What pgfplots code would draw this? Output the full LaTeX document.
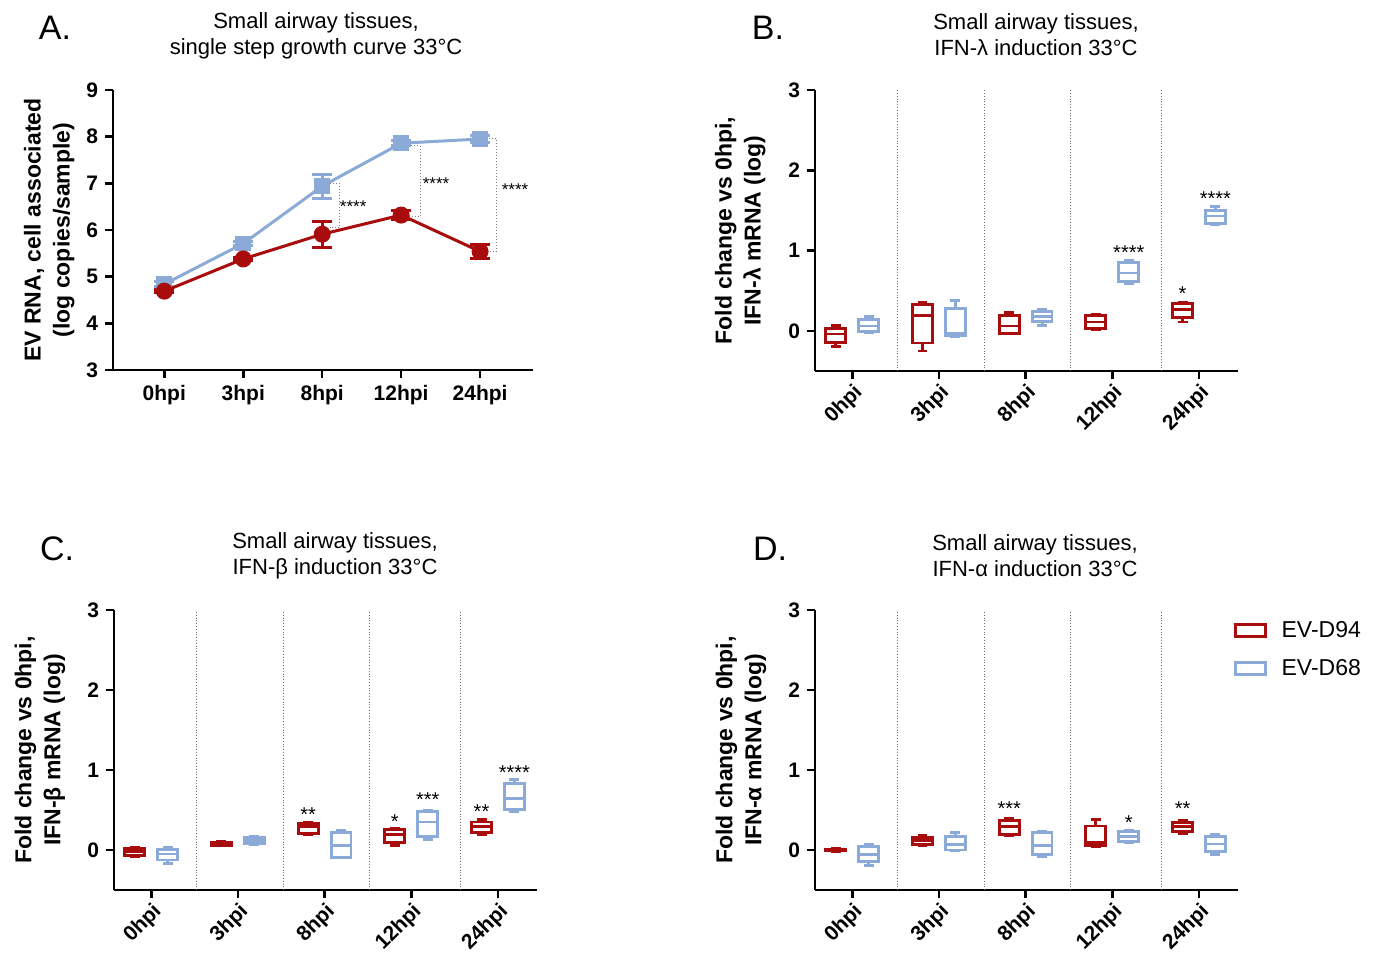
\documentclass[border=0pt]{standalone}
\usepackage{pgfplots}
\pgfplotsset{compat=1.18}
\usepgfplotslibrary{statistics}
\usepackage{fontspec}
\setmainfont{Liberation Sans}
\definecolor{cred}{RGB}{168,12,12}
\definecolor{cblue}{RGB}{140,170,215}
\definecolor{sepgray}{RGB}{110,110,110}

\pgfplotsset{
  base/.style={
    scale only axis, clip=false,
    axis x line*=bottom, axis y line*=left,
    axis line style={line width=1.25pt,-},
    every tick/.style={black, line width=1.25pt},
    major tick length=4pt, tick align=outside,
    /pgf/number format/assume math mode=true,
    tick label style={font=\fontsize{10.5}{12}\selectfont\bfseries},
    ylabel style={font=\fontsize{11.5}{14.5}\selectfont\bfseries, align=center, anchor=center},
  },
  boxax/.style={
    base, xmin=-0.43, xmax=4.45, ymin=-0.5, ymax=3,
    ytick={0,1,2,3}, xtick={0,1,2,3,4},
    xticklabels={0hpi,3hpi,8hpi,12hpi,24hpi},
    xticklabel style={rotate=45, anchor=north east, inner sep=1pt},
    extra x ticks={0.52,1.52,2.52,3.57},
    extra x tick labels={},
    extra x tick style={grid=major, major tick length=0pt,
      major grid style={sepgray, densely dotted, line width=0.5pt}},
    boxplot/draw direction=y,
  },
}
\tikzset{sigstar/.style={font=\fontsize{10}{10}\selectfont, yshift=-2pt}}
% box: color, position, lower whisker, lower quartile, median, upper quartile, upper whisker
\newcommand{\bx}[7]{\addplot[#1, line width=1.4pt, forget plot,
  boxplot prepared={draw position=#2, lower whisker=#3, lower quartile=#4,
  median=#5, upper quartile=#6, upper whisker=#7, box extend=0.23, whisker extend=0.115}]
  coordinates {};}

\begin{document}
\begin{tikzpicture}
\path[use as bounding box] (0pt,0pt) rectangle (687.5pt,-479pt);

% ---------- Panel letters and titles ----------
\node[font=\fontsize{17}{17}\selectfont] at (27.5pt,-14pt) {A.};
\node[font=\fontsize{17}{17}\selectfont] at (384pt,-14pt) {B.};
\node[font=\fontsize{17}{17}\selectfont] at (28.5pt,-274.5pt) {C.};
\node[font=\fontsize{17}{17}\selectfont] at (385pt,-274.5pt) {D.};
\node[align=center, font=\fontsize{11}{13}\selectfont] at (158pt,-18pt) {Small airway tissues,\\single step growth curve 33°C};
\node[align=center, font=\fontsize{11}{13}\selectfont] at (518pt,-17.5pt) {Small airway tissues,\\IFN-λ induction 33°C};
\node[align=center, font=\fontsize{11}{13}\selectfont] at (167.5pt,-278pt) {Small airway tissues,\\IFN-β induction 33°C};
\node[align=center, font=\fontsize{11}{13}\selectfont] at (517.5pt,-278pt) {Small airway tissues,\\IFN-α induction 33°C};

% ---------- Panel A ----------
\begin{axis}[base, at={(56.5pt,-185pt)}, anchor=south west,
  width=210pt, height=140pt,
  xmin=-0.65, xmax=4.67, ymin=3, ymax=9, ytick={3,4,5,6,7,8,9},
  xtick={0,1,2,3,4}, xticklabels={0hpi,3hpi,8hpi,12hpi,24hpi},
  ylabel={EV RNA, cell associated\\(log copies/sample)},
  ylabel style={at={(axis description cs:-0.152,0.5)}},
]
\addplot[cblue, line width=1.5pt, mark=square*, mark size=3.2pt,
  error bars/.cd, y dir=both, y explicit,
  error bar style={line width=1.5pt},
  error mark options={rotate=90, mark size=5pt, line width=1.5pt}]
  coordinates {(0,4.84) +- (0,0.05) (1,5.71) +- (0,0.05) (2,6.94) +- (0,0.26) (3,7.86) +- (0,0.05) (4,7.95) +- (0,0.08)};
\addplot[cred, line width=1.5pt, mark=*, mark size=3.5pt,
  error bars/.cd, y dir=both, y explicit,
  error bar style={line width=1.5pt},
  error mark options={rotate=90, mark size=5pt, line width=1.5pt}]
  coordinates {(0,4.69) +- (0,0.03) (1,5.38) +- (0,0.04) (2,5.91) +- (0,0.28) (3,6.32) +- (0,0.10) (4,5.54) +- (0,0.16)};
\draw[gray, densely dotted, line width=0.5pt] (axis cs:2.1,7.0) -- (axis cs:2.22,7.0) -- (axis cs:2.22,6.05) -- (axis cs:2.1,6.05);
\draw[gray, densely dotted, line width=0.5pt] (axis cs:3.09,7.81) -- (axis cs:3.24,7.81) -- (axis cs:3.24,6.29) -- (axis cs:3.09,6.29);
\draw[gray, densely dotted, line width=0.5pt] (axis cs:4.08,7.96) -- (axis cs:4.21,7.96) -- (axis cs:4.21,5.535) -- (axis cs:4.08,5.535);
\node[anchor=west, font=\fontsize{8.5}{9}\selectfont, yshift=-1.5pt, inner sep=0pt] at (axis cs:2.22,6.56) {****};
\node[anchor=west, font=\fontsize{8.5}{9}\selectfont, yshift=-1.5pt, inner sep=0pt] at (axis cs:3.27,7.05) {****};
\node[anchor=west, font=\fontsize{8.5}{9}\selectfont, yshift=-1.5pt, inner sep=0pt] at (axis cs:4.27,6.93) {****};
\end{axis}

% ---------- Panel B ----------
\begin{axis}[boxax, at={(407.5pt,-185.5pt)}, anchor=south west,
  width=211.5pt, height=140.5pt,
  ylabel={Fold change vs 0hpi,\\IFN-λ mRNA (log)},
  ylabel style={at={(axis description cs:-0.177,0.5)}},
]
\bx{cred}{-0.19}{-0.195}{-0.145}{-0.04}{0.03}{0.07}
\bx{cblue}{0.19}{-0.02}{-0.01}{0.06}{0.145}{0.18}
\bx{cred}{0.81}{-0.25}{-0.15}{0.19}{0.33}{0.36}
\bx{cblue}{1.19}{-0.07}{-0.06}{-0.03}{0.28}{0.38}
\bx{cred}{1.81}{-0.04}{-0.03}{0.06}{0.19}{0.23}
\bx{cblue}{2.19}{0.07}{0.12}{0.18}{0.24}{0.27}
\bx{cred}{2.81}{0.02}{0.03}{0.11}{0.19}{0.21}
\bx{cblue}{3.19}{0.59}{0.61}{0.72}{0.85}{0.88}
\bx{cred}{3.81}{0.11}{0.17}{0.27}{0.34}{0.36}
\bx{cblue}{4.19}{1.32}{1.34}{1.43}{1.50}{1.55}
\node[sigstar] at (axis cs:3.19,1.02) {****};
\node[sigstar] at (axis cs:4.19,1.70) {****};
\node[sigstar] at (axis cs:3.81,0.51) {*};
\end{axis}

% ---------- Panel C ----------
\begin{axis}[boxax, at={(57pt,-445pt)}, anchor=south west,
  width=211.5pt, height=140pt,
  ylabel={Fold change vs 0hpi,\\IFN-β mRNA (log)},
  ylabel style={at={(axis description cs:-0.175,0.5)}},
]
\bx{cred}{-0.19}{-0.08}{-0.07}{-0.02}{0.02}{0.03}
\bx{cblue}{0.19}{-0.17}{-0.125}{-0.05}{0.01}{0.03}
\bx{cred}{0.81}{0.05}{0.06}{0.08}{0.10}{0.11}
\bx{cblue}{1.19}{0.07}{0.08}{0.12}{0.16}{0.17}
\bx{cred}{1.81}{0.195}{0.21}{0.29}{0.33}{0.35}
\bx{cblue}{2.19}{-0.10}{-0.09}{0.06}{0.22}{0.25}
\bx{cred}{2.81}{0.06}{0.09}{0.195}{0.26}{0.27}
\bx{cblue}{3.19}{0.13}{0.17}{0.35}{0.48}{0.50}
\bx{cred}{3.81}{0.195}{0.22}{0.29}{0.35}{0.38}
\bx{cblue}{4.19}{0.485}{0.51}{0.64}{0.83}{0.88}
\node[sigstar] at (axis cs:1.81,0.49) {**};
\node[sigstar] at (axis cs:2.81,0.40) {*};
\node[sigstar] at (axis cs:3.19,0.68) {***};
\node[sigstar] at (axis cs:3.81,0.53) {**};
\node[sigstar] at (axis cs:4.19,1.02) {****};
\end{axis}

% ---------- Panel D ----------
\begin{axis}[boxax, at={(407.5pt,-445pt)}, anchor=south west,
  width=211.5pt, height=140pt,
  ylabel={Fold change vs 0hpi,\\IFN-α mRNA (log)},
  ylabel style={at={(axis description cs:-0.175,0.5)}},
  legend style={at={(axis description cs:0.975,0.99)}, anchor=north west,
    draw=none, fill=none, font=\fontsize{11.5}{13}\selectfont, row sep=5.5pt},
  legend cell align=left,
]
\addlegendimage{legend image code/.code={\draw[cred, line width=1.4pt] (0pt,-3pt) rectangle (15pt,3pt); \path (21pt,0pt);}}
\addlegendentry{EV-D94}
\addlegendimage{legend image code/.code={\draw[cblue, line width=1.4pt] (0pt,-3pt) rectangle (15pt,3pt); \path (21pt,0pt);}}
\addlegendentry{EV-D68}
\bx{cred}{-0.19}{-0.02}{-0.01}{0.0}{0.01}{0.02}
\bx{cblue}{0.19}{-0.19}{-0.145}{-0.06}{0.04}{0.075}
\bx{cred}{0.81}{0.06}{0.07}{0.12}{0.16}{0.18}
\bx{cblue}{1.19}{-0.01}{0.0}{0.07}{0.165}{0.215}
\bx{cred}{1.81}{0.18}{0.19}{0.29}{0.37}{0.39}
\bx{cblue}{2.19}{-0.08}{-0.06}{0.06}{0.215}{0.235}
\bx{cred}{2.81}{0.04}{0.06}{0.095}{0.30}{0.385}
\bx{cblue}{3.19}{0.09}{0.11}{0.17}{0.23}{0.25}
\bx{cred}{3.81}{0.21}{0.23}{0.29}{0.34}{0.37}
\bx{cblue}{4.19}{-0.06}{-0.02}{0.075}{0.17}{0.20}
\node[sigstar] at (axis cs:1.81,0.57) {***};
\node[sigstar] at (axis cs:3.19,0.39) {*};
\node[sigstar] at (axis cs:3.81,0.57) {**};
\end{axis}
\end{tikzpicture}
\end{document}
